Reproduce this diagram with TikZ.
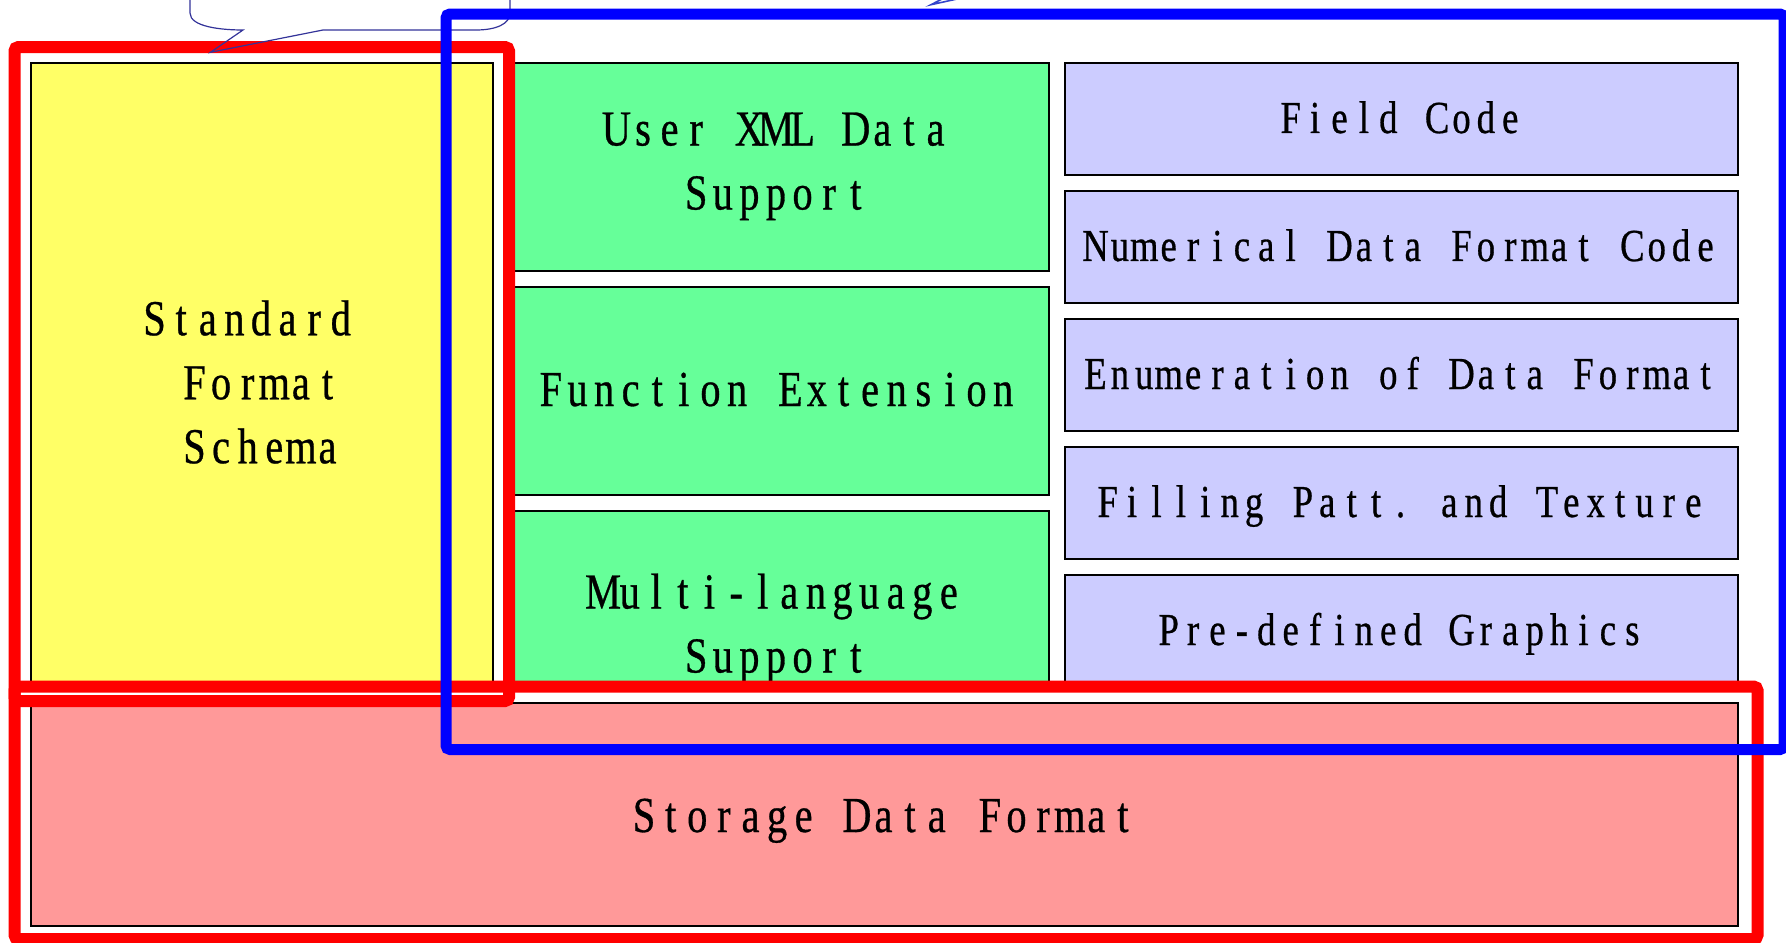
\documentclass[tikz,border=0pt]{standalone}
\usepackage{fontspec}
\setmainfont{Liberation Serif}[FakeStretch=0.8, FakeBold=0.6]

\definecolor{boxyellow}{RGB}{255,255,102}
\definecolor{boxgreen}{RGB}{102,255,153}
\definecolor{boxlav}{RGB}{204,204,255}
\definecolor{boxpink}{RGB}{255,153,153}
\definecolor{calloutblue}{RGB}{51,51,153}
\definecolor{tipblue}{RGB}{51,68,204}

% Fixed-pitch text: every character sits in a cell of width #1,
% words are separated by one empty cell; the line box has cap height, no depth.
\ExplSyntaxOn
\dim_new:N \l_cellw_dim
\NewDocumentCommand{\cells}{m m}
  {
    \dim_set:Nn \l_cellw_dim {#1}
    \seq_set_split:Nnn \l_tmpa_seq {~} {#2}
    \mbox
      {
        \rule{0pt}{\fontcharht\font`H}
        \smash
          {
            \seq_map_indexed_inline:Nn \l_tmpa_seq
              {
                \int_compare:nNnT {##1} > {1} { \hspace*{\l_cellw_dim} }
                \tl_map_inline:nn {##2} { \makebox[\l_cellw_dim][c]{####1} }
              }
          }
      }
  }
\ExplSyntaxOff

\tikzset{
  box/.style={draw=black, line width=0.8pt, inner sep=0pt, anchor=north west},
  bigtxt/.style={font=\fontsize{25.2}{32}\selectfont, align=center, inner sep=0pt},
  smalltxt/.style={font=\fontsize{22.9}{28}\selectfont, inner sep=0pt},
  redframe/.style={draw=red, line width=6pt, rounded corners=2pt},
  blueframe/.style={draw=blue, line width=5.5pt, rounded corners=2pt},
  callout/.style={draw=calloutblue, line width=0.6pt, line join=miter},
}

\begin{document}
\begin{tikzpicture}[x=0.5pt, y=-0.5pt]
\useasboundingbox (0,0) rectangle (1786,942);

% ---- coloured blocks ----
\node[box, fill=boxyellow, minimum width=231pt, minimum height=314pt] (sfs) at (30,62) {};
\node[box, fill=boxgreen, minimum width=270pt, minimum height=104pt] (g1) at (508,62) {};
\node[box, fill=boxgreen, minimum width=270pt, minimum height=104pt] (g2) at (508,286) {};
\node[box, fill=boxgreen, minimum width=270pt, minimum height=90pt] (g3) at (508,510) {};
\node[box, fill=boxlav, minimum width=336.5pt, minimum height=56pt] (l1) at (1064,62) {};
\node[box, fill=boxlav, minimum width=336.5pt, minimum height=56pt] (l2) at (1064,190) {};
\node[box, fill=boxlav, minimum width=336.5pt, minimum height=56pt] (l3) at (1064,318) {};
\node[box, fill=boxlav, minimum width=336.5pt, minimum height=56pt] (l4) at (1064,446) {};
\node[box, fill=boxlav, minimum width=336.5pt, minimum height=58pt] (l5) at (1064,574) {};
\node[box, fill=boxpink, minimum width=853.5pt, minimum height=111.5pt] (sdf) at (30,702) {};

% ---- labels ----
\node[bigtxt] (sfst) at (261,382.75)
  {\cells{13.3pt}{Standard}\hspace*{13.3pt}\\\cells{13.3pt}{Format}\\\cells{13.3pt}{Schema}};
\node[bigtxt] (g1t) at (776,161) {\cells{13.3pt}{User XML Data}\\\cells{13.3pt}{Support}};
\node[bigtxt] (g2t) at (777,389.5) {\cells{13.3pt}{Function Extension}};
\node[bigtxt] (g3t) at (776,624) {\cells{13.3pt}{Multi-language}\\\cells{13.3pt}{Support}};
\node[smalltxt] (l1t) at (1400.5,118) {\cells{12.2pt}{Field Code}};
\node[smalltxt] (l2t) at (1400.5,246) {\cells{12.2pt}{Numerical Data Format Code}};
\node[smalltxt] (l3t) at (1400.5,374) {\cells{12.2pt}{Enumeration of Data Format}};
\node[smalltxt] (l4t) at (1400.5,502) {\cells{12.2pt}{Filling Patt. and Texture}};
\node[smalltxt] (l5t) at (1400.5,630) {\cells{12.2pt}{Pre-defined Graphics}};
\node[bigtxt] (sdft) at (883.5,815.5) {\cells{13.3pt}{Storage Data Format}};

% ---- red grouping frames ----
\draw[redframe] (14.5,47) rectangle (509,701);
\draw[redframe] (14.5,686.5) rectangle (1757.5,939);

% ---- callout outlines along the top edge ----
\coordinate (cl0) at (190,-2);
\coordinate (cltip) at (210.5,52.3);
\coordinate (clr0) at (510,-2);
\draw[callout] (cl0) -- (190,13) .. controls (190,27) and (222,30) .. (243,30)
  -- (cltip) -- (323,30) -- (476,30) .. controls (496,30) and (510,24) .. (510,13) -- (clr0);
\coordinate (c2a) at (957,-1);
\coordinate (c2tip) at (931,4.7);
\coordinate (c2b) at (942,-1);
\draw[draw=tipblue, line width=0.8pt] (c2a) -- (c2tip) -- (c2b);

% ---- blue grouping frame ----
\draw[blueframe] (446,14) rectangle (1784,749.5);
\end{tikzpicture}
\end{document}
